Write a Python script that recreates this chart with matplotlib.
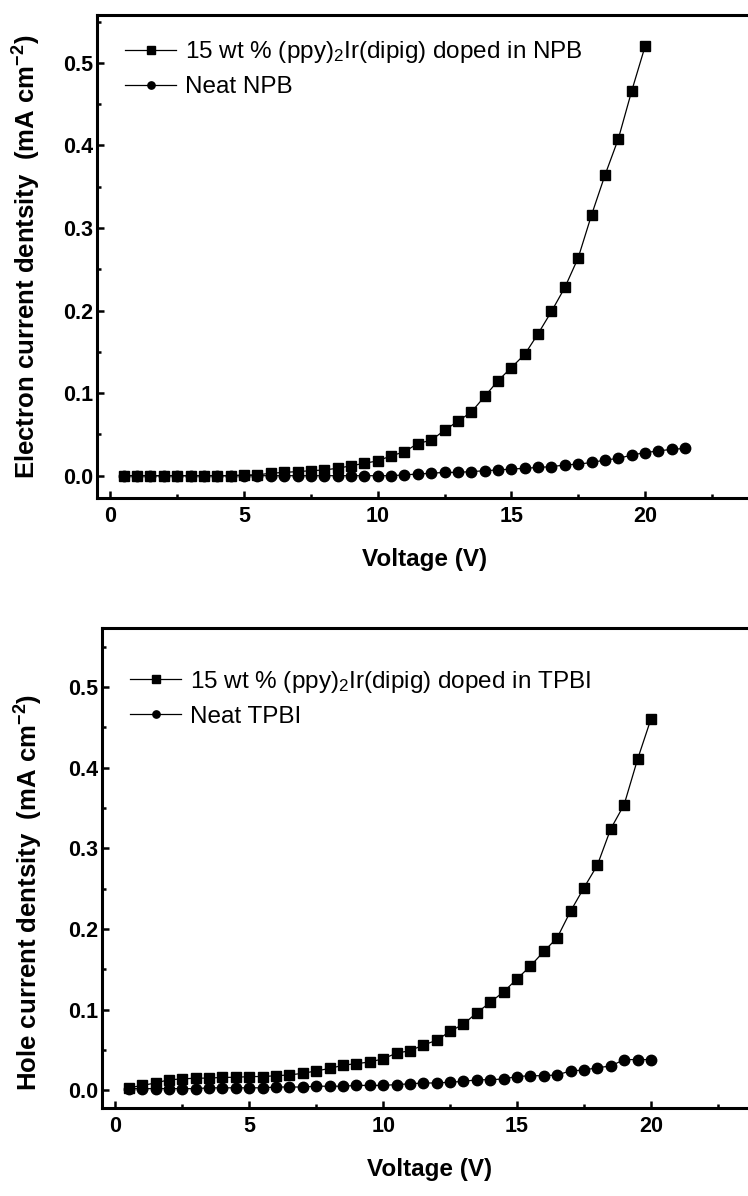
import matplotlib
matplotlib.use('Agg')
import matplotlib.pyplot as plt
from matplotlib.ticker import MultipleLocator

# ── Fonts ─────────────────────────────────────────────────────────────────────
plt.rcParams['font.family'] = ['Liberation Sans', 'DejaVu Sans']
plt.rcParams['mathtext.fontset'] = 'custom'
plt.rcParams['mathtext.rm'] = 'Liberation Sans'
plt.rcParams['mathtext.it'] = 'Liberation Sans:italic'
plt.rcParams['mathtext.bf'] = 'Liberation Sans:bold'

# ── Data ──────────────────────────────────────────────────────────────────────
v_doped_npb = [0.5, 1.0, 1.5, 2.0, 2.5, 3.0, 3.5, 4.0, 4.5, 5.0,
               5.5, 6.0, 6.5, 7.0, 7.5, 8.0, 8.5, 9.0, 9.5, 10.0,
               10.5, 11.0, 11.5, 12.0, 12.5, 13.0, 13.5, 14.0, 14.5, 15.0,
               15.5, 16.0, 16.5, 17.0, 17.5, 18.0, 18.5, 19.0, 19.5, 20.0]
j_doped_npb = [0.000, 0.000, 0.000, 0.000, 0.000, 0.000, 0.000, 0.000, 0.000, 0.001,
               0.001, 0.003, 0.004, 0.005, 0.006, 0.007, 0.009, 0.012, 0.015, 0.018,
               0.024, 0.029, 0.039, 0.043, 0.055, 0.066, 0.077, 0.096, 0.115, 0.131,
               0.147, 0.172, 0.199, 0.228, 0.264, 0.316, 0.364, 0.408, 0.466, 0.520]

v_neat_npb = [0.5, 1.0, 1.5, 2.0, 2.5, 3.0, 3.5, 4.0, 4.5, 5.0,
              5.5, 6.0, 6.5, 7.0, 7.5, 8.0, 8.5, 9.0, 9.5, 10.0,
              10.5, 11.0, 11.5, 12.0, 12.5, 13.0, 13.5, 14.0, 14.5, 15.0,
              15.5, 16.0, 16.5, 17.0, 17.5, 18.0, 18.5, 19.0, 19.5, 20.0,
              20.5, 21.0, 21.5]
j_neat_npb = [0.000, 0.000, 0.000, 0.000, 0.000, 0.000, 0.000, 0.000, 0.000, 0.000,
              0.000, 0.000, 0.000, 0.000, 0.000, 0.000, 0.000, 0.000, 0.000, 0.000,
              0.000, 0.001, 0.002, 0.003, 0.004, 0.004, 0.005, 0.006, 0.007, 0.008,
              0.009, 0.010, 0.011, 0.013, 0.014, 0.016, 0.019, 0.021, 0.025, 0.028,
              0.030, 0.032, 0.033]

v_doped_tpbi = [0.5, 1.0, 1.5, 2.0, 2.5, 3.0, 3.5, 4.0, 4.5, 5.0,
                5.5, 6.0, 6.5, 7.0, 7.5, 8.0, 8.5, 9.0, 9.5, 10.0,
                10.5, 11.0, 11.5, 12.0, 12.5, 13.0, 13.5, 14.0, 14.5, 15.0,
                15.5, 16.0, 16.5, 17.0, 17.5, 18.0, 18.5, 19.0, 19.5, 20.0]
j_doped_tpbi = [0.003, 0.006, 0.009, 0.013, 0.014, 0.015, 0.015, 0.016, 0.016, 0.017,
                0.017, 0.018, 0.019, 0.021, 0.024, 0.027, 0.031, 0.033, 0.035, 0.039,
                0.046, 0.049, 0.056, 0.062, 0.073, 0.082, 0.096, 0.109, 0.122, 0.138,
                0.154, 0.172, 0.189, 0.222, 0.251, 0.279, 0.324, 0.354, 0.410, 0.460]

v_neat_tpbi = [0.5, 1.0, 1.5, 2.0, 2.5, 3.0, 3.5, 4.0, 4.5, 5.0,
               5.5, 6.0, 6.5, 7.0, 7.5, 8.0, 8.5, 9.0, 9.5, 10.0,
               10.5, 11.0, 11.5, 12.0, 12.5, 13.0, 13.5, 14.0, 14.5, 15.0,
               15.5, 16.0, 16.5, 17.0, 17.5, 18.0, 18.5, 19.0, 19.5, 20.0]
j_neat_tpbi = [0.002, 0.002, 0.002, 0.002, 0.002, 0.002, 0.003, 0.003, 0.003, 0.003,
               0.003, 0.004, 0.004, 0.004, 0.005, 0.005, 0.005, 0.006, 0.006, 0.006,
               0.007, 0.008, 0.009, 0.009, 0.010, 0.011, 0.013, 0.013, 0.014, 0.017,
               0.018, 0.018, 0.019, 0.024, 0.025, 0.028, 0.030, 0.038, 0.038, 0.038]

labels_top = ['15 wt % (ppy)$_2$Ir(dipig) doped in NPB', 'Neat NPB']
labels_bot = ['15 wt % (ppy)$_2$Ir(dipig) doped in TPBI', 'Neat TPBI']
ylabel_top = 'Electron current dentsity  (mA cm$^{\\mathbf{-2}}$)'
ylabel_bot = 'Hole current dentsity  (mA cm$^{\\mathbf{-2}}$)'
xlabel = 'Voltage (V)'

# ── Figure ────────────────────────────────────────────────────────────────────
W, H = 748, 1196
fig = plt.figure(figsize=(W / 100, H / 100), dpi=100)


def px_axes(left, top, right, bottom):
    return fig.add_axes([left / W, 1 - bottom / H, (right - left) / W, (bottom - top) / H])


# right spine sits just past the image edge, as in the original
ax_top = px_axes(97, 15, 752, 498)
ax_bot = px_axes(102, 628, 758, 1108)


def style(ax, ylim, ylabel, legend_labels, leg_anchor, ylab_xy):
    ax.set_xlim(-0.5, 24)
    ax.set_ylim(*ylim)
    ax.xaxis.set_major_locator(MultipleLocator(5))
    ax.xaxis.set_minor_locator(MultipleLocator(2.5))
    ax.yaxis.set_major_locator(MultipleLocator(0.1))
    ax.yaxis.set_minor_locator(MultipleLocator(0.05))
    ax.tick_params(which='both', direction='in', top=False, right=False, width=1.8)
    ax.tick_params(which='major', length=5, labelsize=15.5)
    ax.tick_params(which='minor', length=3)
    ax.tick_params(axis='x', pad=6)
    ax.tick_params(axis='y', pad=3)
    for lab in ax.get_xticklabels() + ax.get_yticklabels():
        lab.set_fontweight('bold')
    for sp in ax.spines.values():
        sp.set_linewidth(2.2)
    ax.set_xlabel(xlabel, fontsize=17.5, fontweight='bold', labelpad=15)
    ax.set_ylabel(ylabel, fontsize=18.5, fontweight='bold')
    ax.yaxis.set_label_coords(*ylab_xy)
    ax.legend(legend_labels, loc='upper left', bbox_to_anchor=leg_anchor,
              frameon=False, fontsize=17.5, handlelength=2.1, handletextpad=0.35,
              labelspacing=0.45, borderpad=0, borderaxespad=0, markerscale=0.7)


mk = dict(color='black', lw=0.9, ms=7.5, mec='black', mfc='black')

ax_top.plot(v_doped_npb, j_doped_npb, marker='s', **mk)
ax_top.plot(v_neat_npb, j_neat_npb, marker='o', **mk)
style(ax_top, (-0.027, 0.558), ylabel_top, labels_top, (0.043, 0.95), (-0.082, 0.50))

ax_bot.plot(v_doped_tpbi, j_doped_tpbi, marker='s', **mk)
ax_bot.plot(v_neat_tpbi, j_neat_tpbi, marker='o', **mk)
style(ax_bot, (-0.022, 0.573), ylabel_bot, labels_bot, (0.043, 0.915), (-0.087, 0.45))

fig.savefig('out.png', dpi=100)
